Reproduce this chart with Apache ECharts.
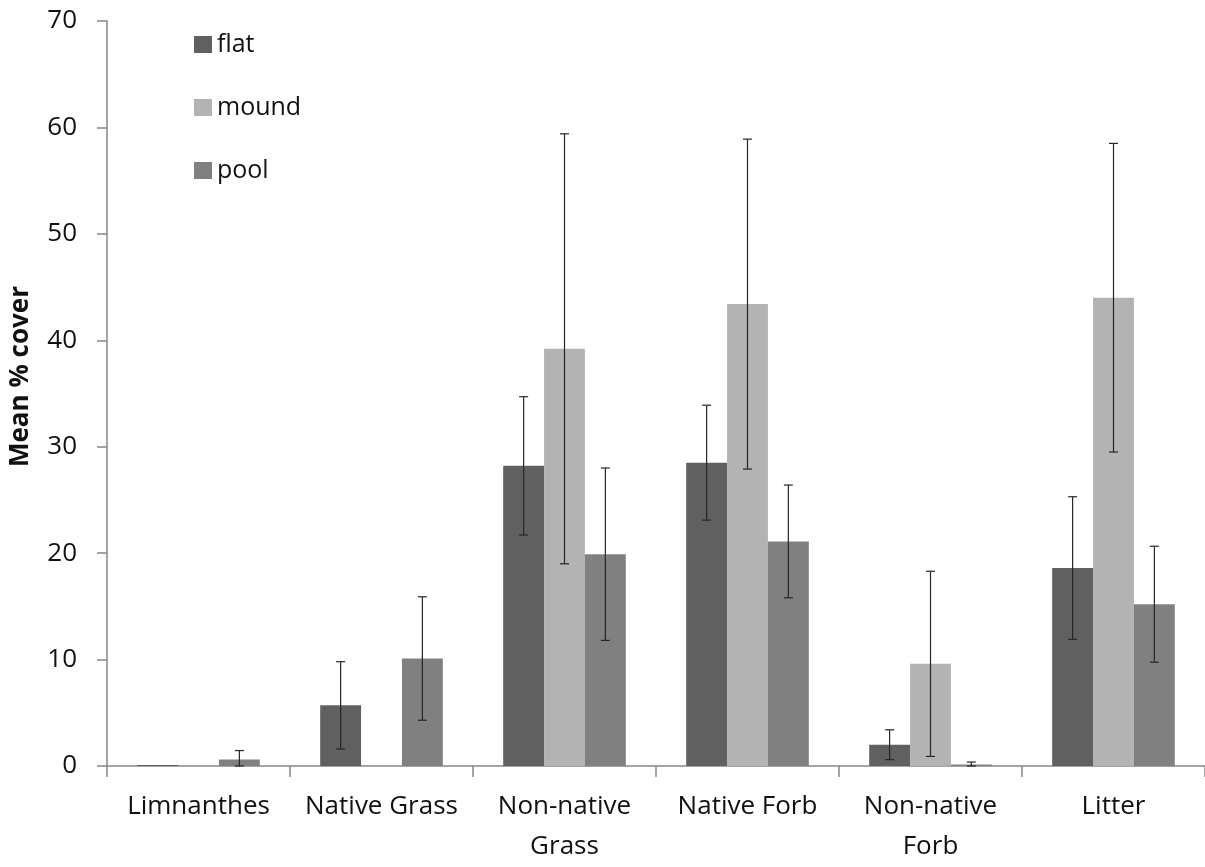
<!DOCTYPE html>
<html>
<head>
<meta charset="utf-8">
<script src="https://cdn.jsdelivr.net/npm/echarts@6/dist/echarts.min.js"></script>
<style>
  html, body { margin: 0; padding: 0; background: #ffffff; }
  #chart { width: 1205px; height: 867px; }
</style>
</head>
<body>
<div id="chart"></div>
<script>
// Mean % cover by plant group and microhabitat, with error bars (±)
const categories = ['Limnanthes', 'Native Grass', 'Non-native\nGrass', 'Native Forb', 'Non-native\nForb', 'Litter'];
const seriesNames = ['flat', 'mound', 'pool'];

const flat  = [0.1, 5.7, 28.2, 28.5, 2.0, 18.6];
const mound = [0.0, 0.0, 39.2, 43.4, 9.6, 44.0];
const pool  = [0.6, 10.1, 19.9, 21.1, 0.15, 15.2];

const flatErr  = [0.0, 4.1, 6.5, 5.4, 1.4, 6.7];
const moundErr = [0.0, 0.0, 20.2, 15.5, 8.7, 14.5];
const poolErr  = [0.85, 5.8, 8.1, 5.3, 0.22, 5.45];

const yTicks = { min: 0, max: 70, interval: 10 };

const colors = ['#606060', '#b3b3b3', '#808080'];
const values = [flat, mound, pool];
const errors = [flatErr, moundErr, poolErr];
const gapRatio = 0.33;
const FONT = 'Open Sans';

const chart = echarts.init(document.getElementById('chart'), null, { renderer: 'canvas' });

const barSeries = seriesNames.map((name, k) => ({
  name: name,
  type: 'bar',
  data: values[k],
  barGap: '0%',
  barCategoryGap: (gapRatio * 100) + '%',
  itemStyle: { color: colors[k] },
  emphasis: { disabled: true },
  z: 2
}));

// whisker for each bar: vertical stem with short caps, skipped where no error is given
const errSeries = seriesNames.map((name, k) => ({
  name: name + ' error',
  type: 'custom',
  z: 5,
  silent: true,
  data: values[k].map((v, i) => [i, Math.max(0, v - errors[k][i]), v + errors[k][i], errors[k][i]]),
  renderItem: function (params, api) {
    if (!(api.value(3) > 0)) return null;
    const idx = api.value(0);
    const lo = api.coord([idx, api.value(1)]);
    const hi = api.coord([idx, api.value(2)]);
    const band = api.size([1, 0])[0];
    const bw = band * (1 - gapRatio) / 3;
    const x = lo[0] + (k - 1) * bw;
    const cap = 4.5;
    const style = { stroke: '#262626', lineWidth: 1.2 };
    return {
      type: 'group',
      children: [
        { type: 'line', shape: { x1: x, y1: lo[1], x2: x, y2: hi[1] }, style: style },
        { type: 'line', shape: { x1: x - cap, y1: hi[1], x2: x + cap, y2: hi[1] }, style: style },
        { type: 'line', shape: { x1: x - cap, y1: lo[1], x2: x + cap, y2: lo[1] }, style: style }
      ]
    };
  }
}));

chart.setOption({
  animation: false,
  backgroundColor: '#ffffff',
  textStyle: { fontFamily: FONT },
  grid: { left: 107, top: 21, width: 1103, height: 753, containLabel: false },
  legend: {
    data: seriesNames,
    orient: 'vertical',
    left: 189,
    top: 27,
    itemWidth: 18,
    itemHeight: 17,
    itemGap: 38,
    icon: 'rect',
    textStyle: { fontFamily: FONT, fontSize: 25, color: '#111' },
    selectedMode: false
  },
  xAxis: {
    type: 'category',
    data: categories,
    axisLine: { lineStyle: { color: '#868686', width: 1.5 } },
    axisTick: { show: true, length: 11, lineStyle: { color: '#868686', width: 1.5 } },
    axisLabel: {
      interval: 0,
      margin: 21,
      fontFamily: FONT,
      fontSize: 26,
      lineHeight: 40,
      color: '#111'
    }
  },
  yAxis: {
    type: 'value',
    min: yTicks.min,
    max: yTicks.max,
    interval: yTicks.interval,
    name: 'Mean % cover',
    nameLocation: 'middle',
    nameGap: 73,
    nameRotate: 90,
    nameTextStyle: { fontFamily: FONT, fontSize: 26, fontWeight: 'bold', color: '#111', padding: [0, 0, 0, 34] },
    axisLine: { show: true, lineStyle: { color: '#868686', width: 1.5 } },
    axisTick: { show: true, length: 10, lineStyle: { color: '#868686', width: 1.5 } },
    axisLabel: { margin: 30, fontFamily: FONT, fontSize: 26, color: '#111' },
    splitLine: { show: false }
  },
  series: barSeries.concat(errSeries)
});
</script>
</body>
</html>
